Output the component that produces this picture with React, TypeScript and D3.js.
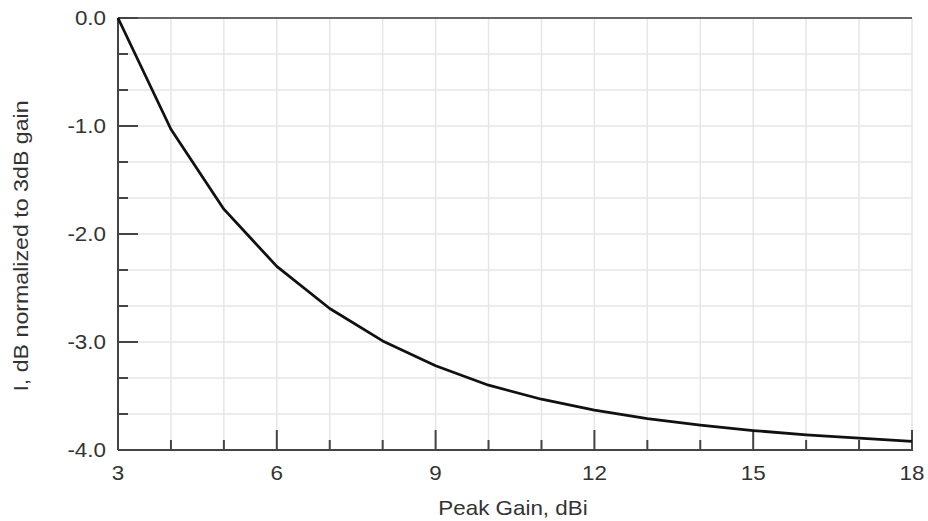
import React from "react";
import * as d3 from "d3";

const gainX: number[] = [3, 4, 5, 6, 7, 8, 9, 10, 11, 12, 13, 14, 15, 16, 17, 18];
const lossY: number[] = [0, -1.03, -1.77, -2.3, -2.69, -2.99, -3.22, -3.4, -3.53, -3.63, -3.71, -3.77, -3.82, -3.86, -3.89, -3.92];
const xMajorTicks: number[] = [3, 6, 9, 12, 15, 18];
const yMajorTicks: number[] = [0, -1, -2, -3, -4];
const xTitle = "Peak Gain, dBi";
const yTitle = "I, dB normalized to 3dB gain";

const W = 928;
const H = 521;
const L = 118, R = 912, T = 18, B = 450;
const FONT = "'Liberation Sans', Arial, sans-serif";
const TXT = "#333";
const AX = "#444";
const GRID = "#e6e6e6";
const SX = 1.12;

export default function App() {
  const x = d3.scaleLinear().domain([3, 18]).range([L, R]);
  const y = d3.scaleLinear().domain([-4, 0]).range([B, T]);
  const xMinor = d3.range(3, 18.001, 1);
  const yMinor = d3.range(0, 13).map((i) => -i / 3);
  const line = d3
    .line<number>()
    .x((_, i) => x(gainX[i]))
    .y((d) => y(d));

  return (
    <svg width={W} height={H} style={{ position: "absolute", left: 0, top: 0, background: "#fff" }}>
      {xMinor.map((v) => (
        <line key={"gx" + v} x1={x(v)} x2={x(v)} y1={T} y2={B} stroke={GRID} strokeWidth={1.5} />
      ))}
      {yMinor.map((v, i) => (
        <line key={"gy" + i} x1={L} x2={R} y1={y(v)} y2={y(v)} stroke={GRID} strokeWidth={1.5} />
      ))}
      <line x1={L} x2={R} y1={T} y2={T} stroke="#666" strokeWidth={2} />
      <line x1={L} x2={L} y1={T} y2={B} stroke={AX} strokeWidth={2} />
      <line x1={L} x2={R + 1} y1={B} y2={B} stroke={AX} strokeWidth={2} />
      {xMinor.map((v) => {
        const major = xMajorTicks.includes(v);
        return (
          <line key={"tx" + v} x1={x(v)} x2={x(v)} y1={B} y2={B - (major ? 20 : 10)} stroke={AX} strokeWidth={2} />
        );
      })}
      {yMinor.map((v, i) => {
        const major = i % 3 === 0;
        return (
          <line key={"ty" + i} x1={L} x2={L + (major ? 20 : 10)} y1={y(v)} y2={y(v)} stroke={AX} strokeWidth={2} />
        );
      })}
      {xMajorTicks.map((v) => (
        <text
          key={"lx" + v}
          transform={`translate(${x(v)},480) scale(${SX},1)`}
          textAnchor="middle"
          fontFamily={FONT}
          fontSize={20}
          fill={TXT}
        >
          {v}
        </text>
      ))}
      {yMajorTicks.map((v) => (
        <text
          key={"ly" + v}
          transform={`translate(106,${y(v) + 7}) scale(${SX},1)`}
          textAnchor="end"
          fontFamily={FONT}
          fontSize={20}
          fill={TXT}
        >
          {v.toFixed(1)}
        </text>
      ))}
      <text
        transform={`translate(513,515) scale(${SX},1)`}
        textAnchor="middle"
        fontFamily={FONT}
        fontSize={20}
        fill={TXT}
      >
        {xTitle}
      </text>
      <text
        transform={`translate(28,246) rotate(-90) scale(1.16,1)`}
        textAnchor="middle"
        fontFamily={FONT}
        fontSize={20}
        fill={TXT}
      >
        {yTitle}
      </text>
      <path d={line(lossY) || ""} fill="none" stroke="#111" strokeWidth={2.8} strokeLinejoin="round" />
    </svg>
  );
}
